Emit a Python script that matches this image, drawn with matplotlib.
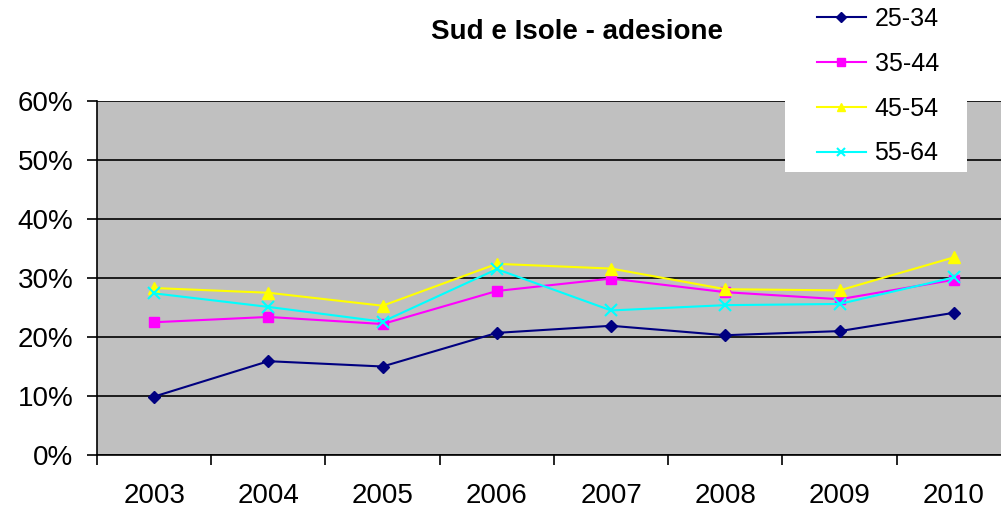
import numpy as np
from matplotlib import pyplot as plt
from matplotlib.patches import Rectangle
from matplotlib.ticker import FixedLocator, PercentFormatter

plt.rcParams['font.family'] = ['Liberation Sans', 'DejaVu Sans']

years = ['2003', '2004', '2005', '2006', '2007', '2008', '2009', '2010']
s25_34 = [9.9, 15.9, 15.0, 20.7, 21.9, 20.3, 21.0, 24.1]
s35_44 = [22.5, 23.4, 22.2, 27.8, 29.9, 27.6, 26.4, 29.7]
s45_54 = [28.3, 27.5, 25.3, 32.4, 31.6, 28.1, 27.9, 33.5]
s55_64 = [27.4, 25.1, 22.6, 31.5, 24.5, 25.4, 25.6, 30.1]
labels = ['25-34', '35-44', '45-54', '55-64']

fig = plt.figure(figsize=(10.01, 5.11), dpi=100)
ax = fig.add_axes([97/1001, 56/511, 914/1001, 354/511])
ax.set_facecolor('#C0C0C0')

x = np.arange(1, len(years) + 1)
ax.plot(x, s25_34, color='#000080', marker='D', markersize=6, lw=1.5, label=labels[0])
ax.plot(x, s35_44, color='#FF00FF', marker='s', markersize=7, lw=1.5, label=labels[1])
ax.plot(x, s45_54, color='#FFFF00', marker='^', markersize=8, lw=1.5, label=labels[2])
ax.plot(x, s55_64, color='#00FFFF', marker='x', markersize=8, mew=1.5, lw=1.5, label=labels[3])

ax.set_xlim(0.5, len(years) + 0.5)
ax.set_ylim(0, 60)
ax.set_yticks(np.arange(0, 61, 10))
ax.yaxis.set_major_formatter(PercentFormatter(decimals=0))
ax.grid(axis='y', color='black', lw=1.2)
ax.set_axisbelow(True)

ax.set_xticks(x)
ax.set_xticklabels(years)
ax.xaxis.set_minor_locator(FixedLocator(np.arange(0.5, len(years) + 1, 1)))
ax.tick_params(axis='x', which='major', length=0, pad=20, labelsize=20)
ax.tick_params(axis='x', which='minor', length=7, width=1.2, direction='out')
ax.tick_params(axis='y', length=7, width=1.2, labelsize=20, pad=10)

for side in ['top', 'right']:
    ax.spines[side].set_visible(False)
ax.spines['left'].set_linewidth(1.2)
ax.spines['bottom'].set_linewidth(1.2)

fig.text(577/1001, 1 - 32/511, 'Sud e Isole - adesione', ha='center', va='center',
         fontsize=20, fontweight='bold')

# white legend box
fig.patches.append(Rectangle((785/1001, 1 - 172/511), 182/1001, 172/511 + 0.01,
                             transform=fig.transFigure, facecolor='white',
                             edgecolor='none', zorder=5))
leg = fig.legend(loc='upper left', bbox_to_anchor=(817/1001, 1 - 7/511), fontsize=18,
                 frameon=False, handlelength=1.95, handletextpad=0.35,
                 labelspacing=0.83, borderaxespad=0, borderpad=0, markerscale=0.8)
leg.set_zorder(6)

fig.savefig('out.png', dpi=100)
